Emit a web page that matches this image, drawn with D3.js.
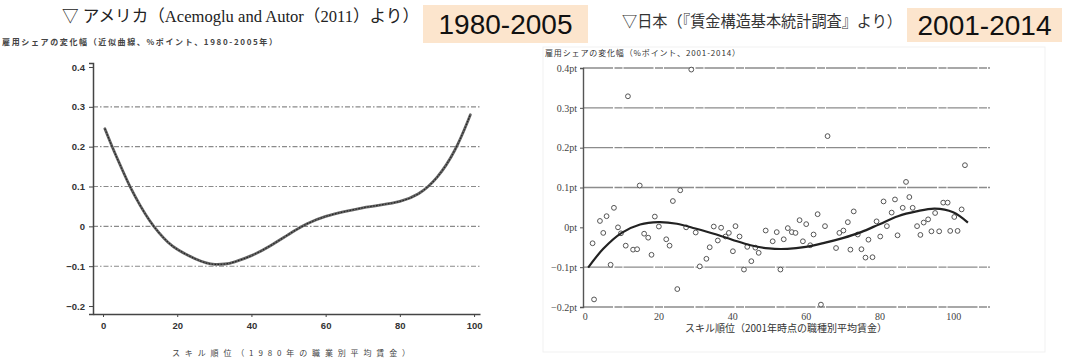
<!DOCTYPE html>
<html>
<head>
<meta charset="utf-8">
<script src="https://cdn.jsdelivr.net/npm/d3@7"></script>
<style>
  body { margin: 0; background: #fff; }
  svg { display: block; }
  .serif { font-family: "Liberation Serif", "Noto Sans CJK JP", serif; }
  .jp { font-family: "Noto Sans CJK JP", sans-serif; }
</style>
</head>
<body>
<div id="chart"></div>
<script>
// --- US (Acemoglu & Autor) smoothed curve
const usSkill  = [0.5, 2.5, 5, 7.5, 10, 12.5, 15, 17.5, 20, 25, 28, 30, 33, 35, 40, 45, 50, 55, 60, 65, 70, 75, 80, 85, 90, 95, 99];
const usChange = [0.245, 0.198, 0.146, 0.094, 0.052, 0.014, -0.016, -0.041, -0.059, -0.083, -0.093, -0.096, -0.095, -0.091, -0.075, -0.050, -0.020, 0.008, 0.026, 0.037, 0.047, 0.054, 0.061, 0.078, 0.118, 0.188, 0.280];
const usYTicks = [0.4, 0.3, 0.2, 0.1, 0, -0.1, -0.2];
const usGrid   = [0.3, 0.2, 0.1, 0, -0.1];
const xTicks   = [0, 20, 40, 60, 80, 100];

// --- Japan scatter (occupations)
const jpSkill = [2.5, 2.1, 4.1, 5.0, 5.9, 7.0, 7.9, 9.0, 9.8, 11.1, 11.7, 13.1, 14.2, 14.9, 16.1, 17.2, 18.1, 19.0, 20.1, 22.1,
  23.0, 23.9, 25.1, 25.9, 27.5, 28.9, 30.1, 31.2, 33.0, 33.9, 35.0, 36.1, 37.0, 38.2, 39.1, 40.2, 40.9, 42.0, 43.2, 44.1,
  45.2, 46.3, 47.2, 49.1, 51.0, 52.1, 53.1, 54.0, 55.1, 56.2, 57.2, 58.3, 59.2, 60.1, 61.2, 62.1, 63.2, 64.1, 65.2, 65.9,
  68.2, 69.1, 70.2, 71.4, 72.1, 73.0, 74.1, 75.1, 76.2, 77.0, 78.1, 79.2, 80.2, 81.1, 82.0, 83.3, 84.2, 84.9, 86.3, 87.2,
  88.1, 89.0, 90.2, 91.1, 92.0, 93.2, 94.1, 95.1, 96.2, 97.3, 98.5, 99.2, 100.3, 101.2, 102.3, 103.2];
const jpChange = [-0.181, -0.040, 0.016, -0.014, 0.028, -0.094, 0.049, 0.0, -0.015, -0.046, 0.329, -0.056, -0.055, 0.105, -0.016, -0.026, -0.069, 0.027, 0.002, -0.030,
  -0.046, 0.066, -0.155, 0.093, 0.0, 0.396, -0.013, -0.098, -0.079, -0.050, 0.002, -0.033, -0.001, -0.023, -0.014, -0.060, 0.003, -0.023, -0.106, -0.049,
  -0.085, -0.051, -0.064, -0.008, -0.035, -0.012, -0.106, -0.030, -0.002, -0.012, -0.014, 0.018, -0.035, 0.008, -0.045, -0.018, 0.033, -0.194, 0.003, 0.229,
  -0.052, -0.014, -0.008, 0.013, -0.056, 0.040, -0.018, -0.055, -0.076, -0.031, -0.075, 0.015, -0.023, 0.065, 0.003, 0.037, 0.070, -0.020, 0.049, 0.114,
  0.076, 0.049, 0.003, -0.019, 0.012, 0.020, -0.010, 0.036, -0.010, 0.062, 0.062, -0.009, 0.026, -0.009, 0.045, 0.156];
// --- Japan fitted curve
const jpFitSkill  = [0.9, 5, 10, 15, 20, 25, 30, 35, 40, 45, 50, 55, 60, 65, 70, 75, 80, 85, 90, 95, 100, 104];
const jpFitChange = [-0.101, -0.054, -0.014, 0.007, 0.013, 0.009, -0.003, -0.016, -0.031, -0.045, -0.053, -0.054, -0.049, -0.039, -0.027, -0.012, 0.008, 0.028, 0.040, 0.047, 0.038, 0.012];
const jpYTicks  = [0.4, 0.3, 0.2, 0.1, 0, -0.1, -0.2];
const jpGrid    = [0.4, 0.3, 0.2, 0.1, -0.1, -0.2];

const W = 1075, H = 360;
const svg = d3.select("#chart").append("svg").attr("width", W).attr("height", H);
svg.append("rect").attr("width", W).attr("height", H).attr("fill", "#fff");

// ---------- headers
svg.append("text").attr("class", "serif")
  .attr("x", 62).attr("y", 22).attr("font-size", 16.5).attr("fill", "#222")
  .attr("textLength", 357).attr("lengthAdjust", "spacingAndGlyphs")
  .text("▽ アメリカ（Acemoglu and Autor（2011）より）");
svg.append("text").attr("class", "jp")
  .attr("x", 2).attr("y", 45).attr("font-size", 8).attr("font-weight", "bold").attr("fill", "#444")
  .attr("textLength", 275).attr("lengthAdjust", "spacing")
  .text("雇用シェアの変化幅（近似曲線、%ポイント、1980-2005年）");

svg.append("text").attr("class", "jp")
  .attr("x", 622).attr("y", 27).attr("font-size", 15.5).attr("fill", "#333")
  .attr("textLength", 280).attr("lengthAdjust", "spacingAndGlyphs")
  .text("▽日本（『賃金構造基本統計調査』より）");
svg.append("text").attr("class", "jp")
  .attr("x", 545).attr("y", 56).attr("font-size", 8).attr("fill", "#333")
  .attr("textLength", 195).attr("lengthAdjust", "spacing")
  .text("雇用シェアの変化幅（%ポイント、2001-2014）");

// period boxes
const boxes = [{label: "1980-2005", x: 423, y: 5, w: 165, h: 38}, {label: "2001-2014", x: 907, y: 8, w: 155, h: 34}];
boxes.forEach(b => {
  svg.append("rect").attr("x", b.x).attr("y", b.y).attr("width", b.w).attr("height", b.h).attr("fill", "#fce5cd");
  svg.append("text").attr("x", b.x + b.w / 2).attr("y", b.y + b.h / 2 + 10)
    .attr("text-anchor", "middle").attr("font-family", "Liberation Sans, Arial, sans-serif")
    .attr("font-size", 28).attr("fill", "#111").text(b.label);
});

// ---------- left chart (US)
const xL = d3.scaleLinear().domain([-2.7, 101.6]).range([93, 480]);
const yL = d3.scaleLinear().domain([-0.22, 0.41]).range([314, 63]);
const gL = svg.append("g");

gL.selectAll(".gridL").data(usGrid).enter().append("line")
  .attr("x1", xL(-2.7)).attr("x2", xL(101.6))
  .attr("y1", d => yL(d)).attr("y2", d => yL(d))
  .attr("stroke", "#8a8a8a").attr("stroke-width", 1.1).attr("stroke-dasharray", "5,2,1.5,2");

gL.append("g").attr("transform", `translate(${xL(-2.7)},0)`)
  .call(d3.axisLeft(yL).tickValues(usYTicks).tickSize(4).tickFormat(d => d3.format("")(d)))
  .call(g => g.select(".domain").attr("stroke", "#444").attr("stroke-width", 1.5))
  .call(g => g.selectAll(".tick line").attr("stroke", "#444"))
  .call(g => g.selectAll("text").attr("font-family", "Liberation Sans, Arial, sans-serif")
    .attr("font-size", 9.5).attr("font-weight", "bold").attr("fill", "#333").attr("dx", -1));

gL.append("g").attr("transform", `translate(0,${yL(-0.22)})`)
  .call(d3.axisBottom(xL).tickValues(xTicks).tickSize(3).tickSizeOuter(0))
  .call(g => g.select(".domain").attr("stroke", "#444").attr("stroke-width", 1.5))
  .call(g => g.selectAll(".tick line").attr("stroke", "#444"))
  .call(g => g.selectAll("text").attr("font-family", "Liberation Sans, Arial, sans-serif")
    .attr("font-size", 9.5).attr("font-weight", "bold").attr("fill", "#333").attr("dy", "0.9em"));

const usLine = d3.line().x((d, i) => xL(usSkill[i])).y(d => yL(d)).curve(d3.curveBasis);
gL.append("path").datum(usChange).attr("d", usLine)
  .attr("fill", "none").attr("stroke", "#666").attr("stroke-width", 2.8).attr("stroke-linecap", "round");
gL.append("path").datum(usChange).attr("d", usLine)
  .attr("fill", "none").attr("stroke", "#222").attr("stroke-width", 1.1).attr("stroke-dasharray", "1.5,1.5");

svg.append("text").attr("class", "jp")
  .attr("x", 172).attr("y", 356).attr("font-size", 8).attr("fill", "#444")
  .attr("textLength", 238).attr("lengthAdjust", "spacing")
  .text("スキル順位（1980年の職業別平均賃金）");

// ---------- right chart (Japan)
svg.append("rect").attr("x", 543).attr("y", 47).attr("width", 502).attr("height", 305)
  .attr("fill", "none").attr("stroke", "#f1f1f1");

const xR = d3.scaleLinear().domain([-0.5, 110]).range([583, 990]);
const yR = d3.scaleLinear().domain([-0.2, 0.4]).range([307, 68]);
const gR = svg.append("g");

gR.selectAll(".gridR").data(jpGrid).enter().append("line")
  .attr("x1", xR(-0.5)).attr("x2", xR(110))
  .attr("y1", d => yR(d)).attr("y2", d => yR(d))
  .attr("stroke", "#8c8c8c").attr("stroke-width", 1.3).attr("stroke-dasharray", "30,1.5,8,1");

gR.append("g").attr("transform", `translate(${xR(-0.5)},0)`)
  .call(d3.axisLeft(yR).tickValues(jpYTicks).tickSize(3).tickFormat(d => d3.format("")(d) + "pt"))
  .call(g => g.select(".domain").attr("stroke", "#555").attr("stroke-width", 1.4))
  .call(g => g.selectAll(".tick line").attr("stroke", "#555"))
  .call(g => g.selectAll("text").attr("font-family", "Liberation Serif, serif")
    .attr("font-size", 10).attr("fill", "#444"));

gR.append("g").attr("transform", `translate(0,${yR(-0.2)})`)
  .call(d3.axisBottom(xR).tickValues(xTicks).tickSize(0))
  .call(g => g.select(".domain").remove())
  .call(g => g.selectAll("text").attr("font-family", "Liberation Serif, serif")
    .attr("font-size", 10).attr("fill", "#444").attr("dy", "0.95em"));

gR.selectAll(".pt").data(jpChange).enter().append("circle")
  .attr("cx", (d, i) => xR(jpSkill[i])).attr("cy", d => yR(d)).attr("r", 2.4)
  .attr("fill", "#fff").attr("stroke", "#555").attr("stroke-width", 1);

const jpLine = d3.line().x((d, i) => xR(jpFitSkill[i])).y(d => yR(d)).curve(d3.curveCatmullRom);
gR.append("path").datum(jpFitChange).attr("d", jpLine)
  .attr("fill", "none").attr("stroke", "#222").attr("stroke-width", 2.2);

svg.append("text").attr("class", "jp")
  .attr("x", 685).attr("y", 332).attr("font-size", 10).attr("fill", "#333")
  .attr("textLength", 202).attr("lengthAdjust", "spacingAndGlyphs")
  .text("スキル順位（2001年時点の職種別平均賃金）");
</script>
</body>
</html>
